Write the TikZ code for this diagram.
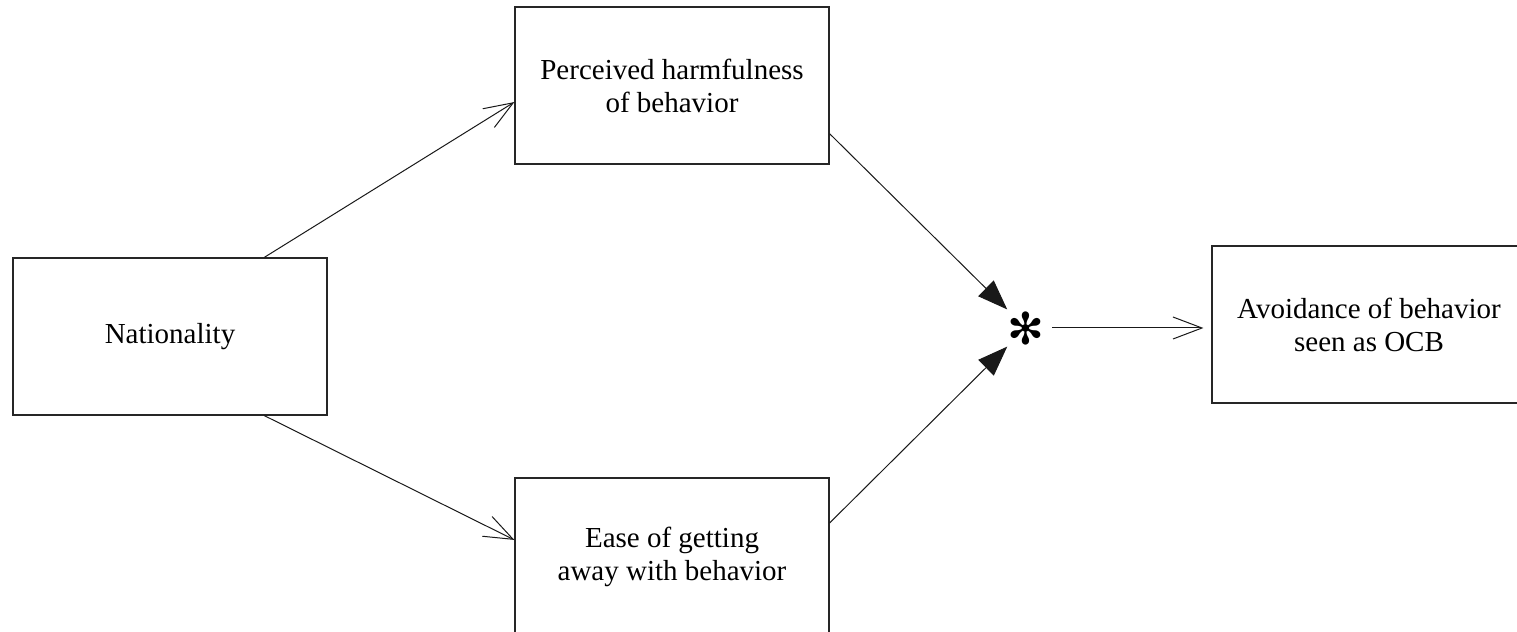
\documentclass[tikz,border=0pt]{standalone}
\usepackage{fontspec}
\setmainfont{Liberation Serif}
\newfontfamily\dingfont{DejaVu Sans}
\usetikzlibrary{arrows.meta}

\begin{document}
\begin{tikzpicture}[x=0.5pt,y=0.5pt,
    varbox/.style={draw=black!85,line width=0.6pt,minimum width=157pt,minimum height=78.5pt,inner sep=0pt,align=center,font=\fontsize{14.5}{16.5}\selectfont},
    openarr/.style={-{Straight Barb[length=14.5pt,width=11pt]},line width=0.5pt,black!90},
    fillarr/.style={-{Triangle[length=15pt,width=11pt]},line width=0.5pt,black!90}]
        \useasboundingbox (0,0) rectangle (1517,632);
        %BOXES
        \node[varbox] (nat) at (170,295.5) {Nationality};
        \node[varbox] (harm) at (672,546.5) {Perceived harmfulness\\of behavior};
        \node[varbox] (ease) at (672,75.5) {Ease of getting\\away with behavior};
        \node[varbox] (avoid) at (1369,307.5) {Avoidance of behavior\\seen as OCB};
        %STAR
        \node[circle,minimum size=26pt,inner sep=0pt] (star) at (1026,304) {\dingfont\fontsize{22}{22}\selectfont ✻};
        %ARROWS
        \draw[openarr] (nat.40) -- (harm.186);
        \draw[openarr] (nat.-40) -- (ease.174);
        \draw[fillarr] (harm.-17) -- (star);
        \draw[fillarr] (ease.12) -- (star);
        \draw[openarr,shorten >=4pt] (star.east) -- (star.east -| avoid.west);
\end{tikzpicture}
\end{document}
